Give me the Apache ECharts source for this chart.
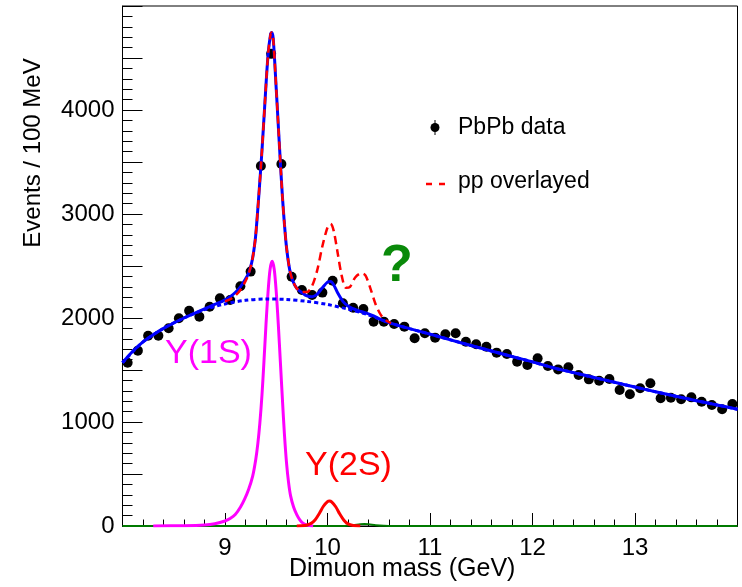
<!DOCTYPE html>
<html>
<head>
<meta charset="utf-8">
<script src="https://cdn.jsdelivr.net/npm/echarts@6/dist/echarts.min.js"></script>
<style>
html,body{margin:0;padding:0;background:#fff;}
#chart{width:742px;height:587px;}
</style>
</head>
<body>
<div id="chart"></div>
<script>
// PbPb data points (bin centres, GeV) and counts
const massBins = [8.05,8.15,8.25,8.35,8.45,8.55,8.65,8.75,8.85,8.95,
  9.05,9.15,9.25,9.35,9.45,9.55,9.65,9.75,9.85,9.95,
  10.05,10.15,10.25,10.35,10.45,10.55,10.65,10.75,10.85,10.95,
  11.05,11.15,11.25,11.35,11.45,11.55,11.65,11.75,11.85,11.95,
  12.05,12.15,12.25,12.35,12.45,12.55,12.65,12.75,12.85,12.95,
  13.05,13.15,13.25,13.35,13.45,13.55,13.65,13.75,13.85,13.95];
const pbpbCounts = [1570,1686,1830,1830,1901,1997,2070,2013,2109,2189,
  2173,2305,2446,3462,4540,3481,2397,2269,2221,2244,
  2359,2141,2099,2087,1965,1965,1942,1917,1805,1853,
  1811,1843,1853,1772,1747,1724,1667,1654,1580,1548,
  1612,1538,1506,1526,1452,1410,1397,1413,1308,1266,
  1324,1372,1228,1234,1218,1237,1195,1163,1122,1173];

// Total fit (blue solid)
const fitX = [8.0,8.1,8.2,8.3,8.4,8.5,8.6,8.7,8.8,8.9,9.0,9.05,9.1,9.15,9.2,9.23,9.26,9.28,9.30,9.33,9.36,9.39,9.42,9.445,9.455,9.47,9.50,9.52,9.54,9.56,9.58,9.60,9.63,9.66,9.70,9.75,9.80,9.85,9.90,9.95,10.0,10.03,10.06,10.10,10.15,10.20,10.25,10.30,10.35,10.40,10.45,10.50,10.60,10.80,11.0,11.2,11.4,11.6,11.8,12.0,12.2,12.4,12.6,12.8,13.0,13.2,13.4,13.6,13.8,14.0];
const fitY = [1570,1680,1770,1840,1900,1952,2000,2045,2088,2130,2175,2205,2245,2300,2375,2430,2530,2640,2800,3180,3600,4080,4530,4730,4745,4690,4200,3850,3500,3170,2900,2680,2470,2360,2285,2245,2212,2205,2230,2290,2345,2350,2320,2240,2160,2115,2090,2070,2055,2040,2020,1995,1955,1898,1845,1790,1735,1683,1630,1578,1522,1475,1428,1382,1336,1291,1247,1205,1164,1122];

// Background (blue dotted)
const bgX = [8.0,8.2,8.4,8.6,8.8,9.0,9.2,9.4,9.6,9.8,10.0,10.2,10.4,10.6,10.8,11.0,11.2,11.4,11.6,11.8,12.0,12.2,12.4,12.6,12.8,13.0,13.2,13.4,13.6,13.8,14.0];
const bgY = [1570,1770,1900,2000,2080,2135,2170,2183,2178,2160,2130,2085,2030,1955,1898,1845,1790,1735,1683,1630,1578,1522,1475,1428,1382,1336,1291,1247,1205,1164,1122];

// pp overlayed (red dashed)
const ppX = [9.0,9.05,9.1,9.15,9.2,9.23,9.26,9.28,9.30,9.33,9.36,9.39,9.42,9.445,9.455,9.47,9.50,9.52,9.54,9.56,9.58,9.60,9.63,9.66,9.70,9.75,9.80,9.85,9.90,9.95,10.0,10.03,10.06,10.10,10.14,10.18,10.22,10.27,10.33,10.37,10.42,10.47,10.52,10.57,10.62];
const ppY = [2160,2180,2215,2270,2355,2425,2530,2640,2800,3180,3600,4080,4530,4730,4745,4690,4200,3850,3500,3170,2900,2680,2470,2360,2285,2250,2250,2310,2460,2690,2870,2905,2840,2620,2400,2290,2300,2390,2430,2410,2280,2130,2030,1978,1950];

// Y(1S) component (magenta)
const oneSX = [8.3,8.6,8.8,8.9,9.0,9.05,9.10,9.15,9.19,9.23,9.27,9.30,9.32,9.34,9.36,9.38,9.40,9.42,9.44,9.46,9.48,9.50,9.52,9.54,9.56,9.58,9.60,9.62,9.64,9.67,9.70,9.73,9.76,9.80,9.86];
const oneSY = [0,3,10,22,48,72,110,180,255,350,480,640,790,990,1250,1580,1940,2250,2470,2545,2470,2250,1940,1580,1220,880,610,420,290,180,110,60,28,8,0];

// Y(2S) component (red)
const twoSX = [9.70,9.78,9.84,9.88,9.92,9.96,10.0,10.02,10.04,10.08,10.12,10.16,10.20,10.25,10.32];
const twoSY = [0,5,25,60,120,190,235,240,232,185,115,55,20,5,0];

// Y(3S) component (green)
const threeSX = [8.0,10.15,10.25,10.32,10.36,10.40,10.47,10.55,10.65,14.0];
const threeSY = [0,0,8,18,20,18,8,2,0,0];

const xTicks = [9,10,11,12,13];
const yTicks = [0,1000,2000,3000,4000];

const pair = (xs, ys) => xs.map((x, i) => [x, ys[i]]);
const FONT = '"Liberation Sans", Arial, Helvetica, sans-serif';

const chart = echarts.init(document.getElementById('chart'), null, {renderer: 'canvas'});
chart.setOption({
  animation: false,
  backgroundColor: '#fff',
  grid: {left: 122.5, right: 4.5, top: 6, bottom: 61, show: true, borderColor: '#000', borderWidth: 1, backgroundColor: 'transparent'},
  xAxis: {
    type: 'value', min: 8, max: 14, interval: 1,
    axisLine: {show: true, lineStyle: {color: '#000', width: 1}},
    axisTick: {show: true, inside: true, length: 13, lineStyle: {color: '#000', width: 1}},
    minorTick: {show: true, splitNumber: 5, length: 6.5, lineStyle: {color: '#000', width: 1}},
    splitLine: {show: false},
    axisLabel: {
      color: '#000', fontSize: 24, fontFamily: FONT, margin: 10,
      formatter: v => xTicks.includes(v) ? String(v) : ''
    }
  },
  yAxis: {
    type: 'value', min: 0, max: 5000, interval: 500,
    axisLine: {show: true, lineStyle: {color: '#000', width: 1}},
    axisTick: {show: true, inside: true, length: 20, lineStyle: {color: '#000', width: 1}},
    minorTick: {show: true, splitNumber: 5, length: 10, lineStyle: {color: '#000', width: 1}},
    splitLine: {show: false},
    axisLabel: {
      color: '#000', fontSize: 24, fontFamily: FONT, margin: 8,
      formatter: v => yTicks.includes(v) ? String(v) : ''
    }
  },
  graphic: [
    {type: 'text', left: 289, top: 557, style: {text: 'Dimuon mass (GeV)', font: '25px ' + FONT, fill: '#000'}},
    {type: 'text', x: 33, y: 153, rotation: Math.PI / 2, style: {text: 'Events / 100 MeV', font: '24px ' + FONT, fill: '#000', align: 'center', verticalAlign: 'middle'}},
    // legend
    {type: 'line', shape: {x1: 435, y1: 120, x2: 435, y2: 135}, style: {stroke: '#000', lineWidth: 1}},
    {type: 'circle', shape: {cx: 435, cy: 127.5, r: 4.5}, style: {fill: '#000'}},
    {type: 'text', x: 458, y: 128, style: {text: 'PbPb data', font: '23px ' + FONT, fill: '#000', verticalAlign: 'middle'}},
    {type: 'line', shape: {x1: 426, y1: 184, x2: 432, y2: 184}, style: {stroke: '#ff0000', lineWidth: 2.5}},
    {type: 'line', shape: {x1: 439, y1: 184, x2: 445, y2: 184}, style: {stroke: '#ff0000', lineWidth: 2.5}},
    {type: 'text', x: 458, y: 182, style: {text: 'pp overlayed', font: '23px ' + FONT, fill: '#000', verticalAlign: 'middle'}},
    // annotations
    {type: 'text', x: 165, y: 354, style: {text: 'Υ(1S)', font: '34px ' + FONT, fill: '#ff00ff', verticalAlign: 'middle'}},
    {type: 'text', x: 305, y: 466, style: {text: 'Υ(2S)', font: '34px ' + FONT, fill: '#ff0000', verticalAlign: 'middle'}},
    {type: 'text', x: 397, y: 267, style: {text: '?', font: 'bold 52px ' + FONT, fill: '#0a8a0a', align: 'center', verticalAlign: 'middle'}}
  ],
  series: [
    {type: 'scatter', name: 'PbPb data', data: pair(massBins, pbpbCounts), symbol: 'circle', symbolSize: 10, itemStyle: {color: '#000', opacity: 1}, z: 2},
    {type: 'line', name: 'Y(3S)', data: pair(threeSX, threeSY), showSymbol: false, smooth: 0.3, lineStyle: {color: '#007a00', width: 2}, z: 3},
    {type: 'line', name: 'Y(1S)', data: pair(oneSX, oneSY), showSymbol: false, smooth: 0.3, lineStyle: {color: '#ff00ff', width: 3}, z: 3},
    {type: 'line', name: 'Y(2S)', data: pair(twoSX, twoSY), showSymbol: false, smooth: 0.3, lineStyle: {color: '#ff0000', width: 3}, z: 3},
    {type: 'line', name: 'background', data: pair(bgX, bgY), showSymbol: false, smooth: 0.3, lineStyle: {color: '#0000ff', width: 3, type: [4, 3]}, z: 4},
    {type: 'line', name: 'total fit', data: pair(fitX, fitY), showSymbol: false, smooth: 0.3, lineStyle: {color: '#0000ff', width: 3}, z: 5},
    {type: 'line', name: 'pp overlayed', data: pair(ppX, ppY), showSymbol: false, smooth: 0.3, lineStyle: {color: '#ff0000', width: 2.5, type: [8, 5]}, z: 6}
  ]
});
</script>
</body>
</html>
